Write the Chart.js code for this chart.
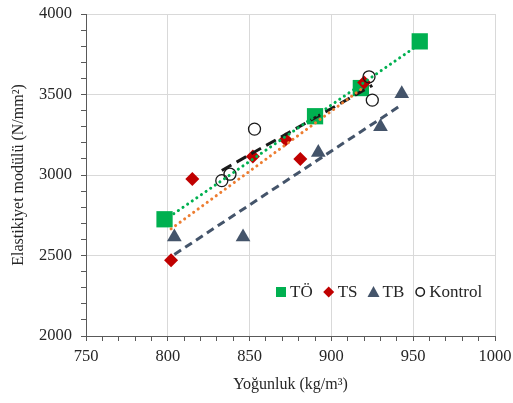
<!DOCTYPE html>
<html>
<head>
<meta charset="utf-8">
<script src="https://cdn.jsdelivr.net/npm/chart.js@4"></script>
<style>
  body { margin: 0; background: #fff; }
  #wrap { width: 513px; height: 403px; }
</style>
</head>
<body>
<div id="wrap"><canvas id="chart" width="513" height="403"></canvas></div>
<script>
// veriler
const toX = [798, 890, 918, 954];
const toY = [2725, 3365, 3540, 3830];
const tsX = [802, 815, 852, 872, 881, 920];
const tsY = [2470, 2975, 3115, 3220, 3100, 3575];
const tbX = [804, 846, 892, 930, 943];
const tbY = [2615, 2615, 3140, 3300, 3505];
const kX = [833, 838, 853, 923, 925];
const kY = [2965, 3005, 3285, 3610, 3465];

const seriesNames = ['TÖ', 'TS', 'TB', 'Kontrol'];
const xTitle = 'Yoğunluk (kg/m³)';
const yTitle = 'Elastikiyet modülü (N/mm²)';

const FONT = '"Liberation Serif", "Times New Roman", serif';

function points(xs, ys) {
    return xs.map((x, i) => ({ x: x, y: ys[i] }));
}

// Excel tarzı doğrusal eğilim çizgisi (en küçük kareler)
function trend(xs, ys) {
    const n = xs.length;
    const mx = xs.reduce((a, b) => a + b, 0) / n;
    const my = ys.reduce((a, b) => a + b, 0) / n;
    let sxy = 0, sxx = 0;
    for (let i = 0; i < n; i++) {
        sxy += (xs[i] - mx) * (ys[i] - my);
        sxx += (xs[i] - mx) * (xs[i] - mx);
    }
    const b = sxy / sxx;
    const a = my - b * mx;
    const x0 = Math.min(...xs), x1 = Math.max(...xs);
    return [{ x: x0, y: a + b * x0 }, { x: x1, y: a + b * x1 }];
}

function trendSet(xs, ys, color, dash, width, cap) {
    return {
        type: 'line',
        data: trend(xs, ys),
        borderColor: color,
        borderWidth: width,
        borderDash: dash,
        borderCapStyle: cap,
        pointRadius: 0,
        showLine: true,
        fill: false,
        order: 0,
        isTrend: true
    };
}

// legend icine cizilir
const insideLegend = {
    id: 'insideLegend',
    afterDraw(chart) {
        const ctx = chart.ctx;
        const y = 292;
        let x = 276;
        ctx.save();
        ctx.font = '17px ' + FONT;
        ctx.textBaseline = 'middle';
        chart.data.datasets.forEach(ds => {
            if (ds.isTrend) return;
            ctx.fillStyle = ds.backgroundColor;
            ctx.strokeStyle = ds.borderColor;
            ctx.lineWidth = 1.5;
            const cx = x + 5;
            ctx.beginPath();
            if (ds.pointStyle === 'rect') {
                ctx.rect(cx - 5, y - 5, 10, 10);
                ctx.fill();
            } else if (ds.pointStyle === 'rectRot') {
                ctx.moveTo(cx, y - 5.5); ctx.lineTo(cx + 5.5, y);
                ctx.lineTo(cx, y + 5.5); ctx.lineTo(cx - 5.5, y);
                ctx.closePath(); ctx.fill();
            } else if (ds.pointStyle === 'triangle') {
                ctx.moveTo(cx, y - 6); ctx.lineTo(cx + 6, y + 5);
                ctx.lineTo(cx - 6, y + 5); ctx.closePath(); ctx.fill();
            } else {
                ctx.arc(cx, y, 4.2, 0, Math.PI * 2);
                ctx.stroke();
            }
            ctx.fillStyle = '#262626';
            ctx.fillText(ds.label, x + 14, y + 1);
            x += 14 + ctx.measureText(ds.label).width + 11;
        });
        ctx.restore();
    }
};

const ctx = document.getElementById('chart').getContext('2d');

const chart = new Chart(ctx, {
    type: 'scatter',
    data: {
        datasets: [
            trendSet(toX, toY, '#00B050', [0.1, 5.5], 3, 'round'),
            trendSet(tsX, tsY, '#ED7D31', [0.1, 5.5], 3, 'round'),
            trendSet(tbX, tbY, '#44546A', [8, 5], 3, 'butt'),
            trendSet(kX, kY, '#1a1a1a', [11, 6], 3, 'butt'),
            {
                label: seriesNames[0],
                data: points(toX, toY),
                pointStyle: 'rect',
                pointRadius: 11.5,
                backgroundColor: '#00B050',
                borderColor: '#00B050',
                borderWidth: 0,
                order: 4
            },
            {
                label: seriesNames[1],
                data: points(tsX, tsY),
                pointStyle: 'rectRot',
                pointRadius: 7,
                backgroundColor: '#C00000',
                borderColor: '#C00000',
                borderWidth: 0,
                order: 3
            },
            {
                label: seriesNames[2],
                data: points(tbX, tbY),
                pointStyle: 'triangle',
                pointRadius: 8.5,
                backgroundColor: '#44546A',
                borderColor: '#44546A',
                borderWidth: 0,
                order: 2
            },
            {
                label: seriesNames[3],
                data: points(kX, kY),
                pointStyle: 'circle',
                pointRadius: 6,
                backgroundColor: 'rgba(0,0,0,0)',
                borderColor: '#1a1a1a',
                borderWidth: 1.3,
                order: 1
            }
        ]
    },
    options: {
        responsive: false,
        animation: false,
        layout: { padding: { top: 14, right: 18, left: 0, bottom: 0 } },
        plugins: {
            legend: { display: false },
            tooltip: { enabled: false }
        },
        scales: {
            x: {
                min: 750,
                max: 1000,
                afterFit: s => { s.height = 67; s.paddingLeft = 0; s.paddingRight = 0; },
                ticks: {
                    stepSize: 10,
                    autoSkip: false,
                    maxRotation: 0,
                    padding: 6,
                    color: '#262626',
                    font: { family: FONT, size: 16.5 },
                    callback: v => (v % 50 === 0 ? v : '')
                },
                grid: {
                    color: c => (c.tick && c.tick.value % 50 === 0 ? '#d9d9d9' : 'rgba(0,0,0,0)'),
                    tickColor: '#595959',
                    tickLength: 5,
                    lineWidth: 1
                },
                border: { color: '#595959', width: 1 },
                title: {
                    display: true,
                    text: xTitle,
                    color: '#262626',
                    font: { family: FONT, size: 16 },
                    padding: { top: 0, bottom: 9 }
                }
            },
            y: {
                min: 2000,
                max: 4000,
                afterFit: s => { s.width = 86; s.paddingTop = 0; s.paddingBottom = 0; },
                ticks: {
                    stepSize: 100,
                    autoSkip: false,
                    padding: 9,
                    color: '#262626',
                    font: { family: FONT, size: 16.5 },
                    callback: v => (v % 500 === 0 ? v : '')
                },
                grid: {
                    color: c => (c.tick && c.tick.value % 500 === 0 ? '#d9d9d9' : 'rgba(0,0,0,0)'),
                    tickColor: '#595959',
                    tickLength: 5,
                    lineWidth: 1
                },
                border: { color: '#595959', width: 1 },
                title: {
                    display: true,
                    text: yTitle,
                    color: '#262626',
                    font: { family: FONT, size: 16 },
                    padding: { top: 9, bottom: 0 }
                }
            }
        }
    },
    plugins: [insideLegend]
});
</script>
</body>
</html>
